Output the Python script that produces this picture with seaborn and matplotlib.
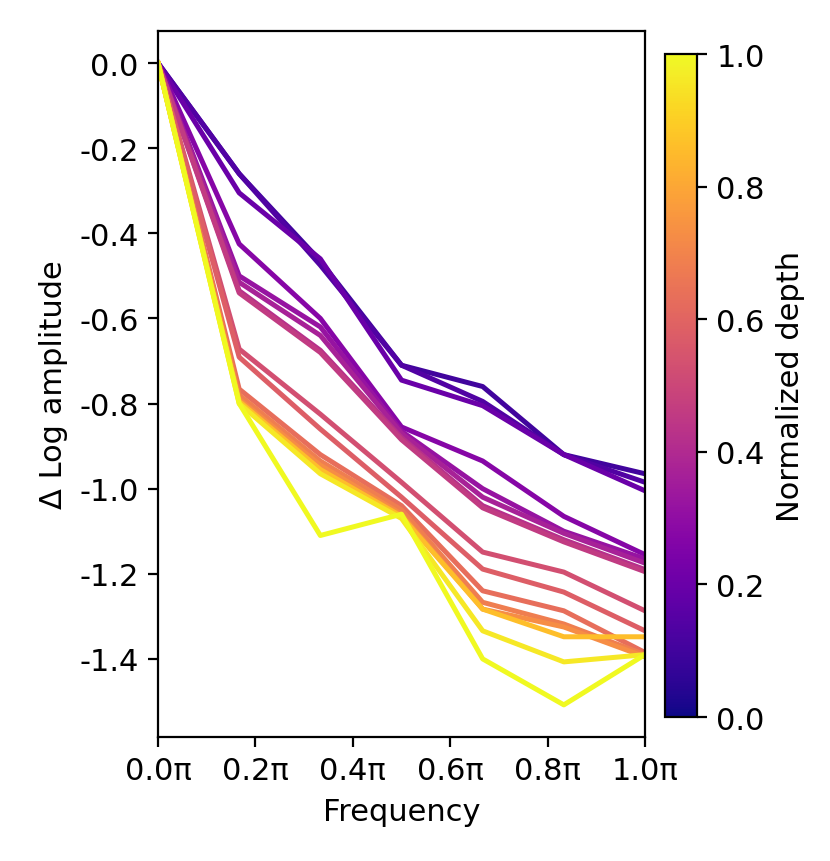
import numpy as np
import pandas as pd
import seaborn as sns
import matplotlib
matplotlib.use("Agg")
import matplotlib.pyplot as plt
from matplotlib.ticker import FuncFormatter

plt.rcParams["font.size"] = 11

# frequency in units of pi
freqs = [0.0, 1/6, 2/6, 3/6, 4/6, 5/6, 1.0]

# normalized depth of each curve
depths = [0.10, 0.14, 0.20, 0.27, 0.32, 0.37, 0.42, 0.46,
          0.53, 0.58, 0.63, 0.68, 0.73, 0.86, 0.96, 1.00]

# delta log amplitude per curve
curves = [
    [0, -0.26, -0.465, -0.71, -0.76, -0.92, -0.965],
    [0, -0.26, -0.475, -0.71, -0.795, -0.92, -0.985],
    [0, -0.305, -0.46, -0.745, -0.805, -0.92, -1.005],
    [0, -0.425, -0.60, -0.855, -0.935, -1.065, -1.155],
    [0, -0.50, -0.62, -0.865, -1.00, -1.10, -1.165],
    [0, -0.515, -0.64, -0.87, -1.02, -1.105, -1.175],
    [0, -0.535, -0.675, -0.88, -1.04, -1.12, -1.19],
    [0, -0.54, -0.68, -0.885, -1.045, -1.125, -1.195],
    [0, -0.672, -0.825, -0.985, -1.149, -1.196, -1.287],
    [0, -0.691, -0.86, -1.02, -1.189, -1.243, -1.334],
    [0, -0.766, -0.92, -1.04, -1.24, -1.287, -1.385],
    [0, -0.78, -0.935, -1.05, -1.267, -1.318, -1.39],
    [0, -0.79, -0.945, -1.06, -1.283, -1.325, -1.395],
    [0, -0.795, -0.955, -1.065, -1.283, -1.348, -1.348],
    [0, -0.80, -0.965, -1.07, -1.334, -1.407, -1.39],
    [0, -0.80, -1.11, -1.06, -1.40, -1.508, -1.39],
]

rows = []
for d, c in zip(depths, curves):
    for f, a in zip(freqs, c):
        rows.append({"freq": f, "amp": a, "depth": d})
df = pd.DataFrame(rows)

fig = plt.figure(figsize=(4.15, 4.31), dpi=200)
ax = fig.add_axes([0.1904, 0.1439, 0.5867, 0.819])
cax = fig.add_axes([0.801, 0.167, 0.0386, 0.769])

sns.lineplot(data=df, x="freq", y="amp", hue="depth", palette="plasma",
             hue_norm=(0, 1), legend=False, ax=ax, linewidth=1.8)

ax.set_xlim(0, 1)
ax.set_xticks([0, 0.2, 0.4, 0.6, 0.8, 1.0])
ax.xaxis.set_major_formatter(FuncFormatter(lambda v, p: f"{v:.1f}π"))
ax.yaxis.set_major_formatter(FuncFormatter(lambda v, p: f"{v:.1f}"))
ax.set_xlabel("Frequency")
ax.set_ylabel("Δ Log amplitude")

sm = plt.cm.ScalarMappable(cmap="plasma", norm=plt.Normalize(0, 1))
cb = fig.colorbar(sm, cax=cax)
cb.set_ticks([0, 0.2, 0.4, 0.6, 0.8, 1.0])
cb.ax.yaxis.set_major_formatter(FuncFormatter(lambda v, p: f"{v:.1f}"))
cb.set_label("Normalized depth")

fig.savefig("out.png", dpi=200)
